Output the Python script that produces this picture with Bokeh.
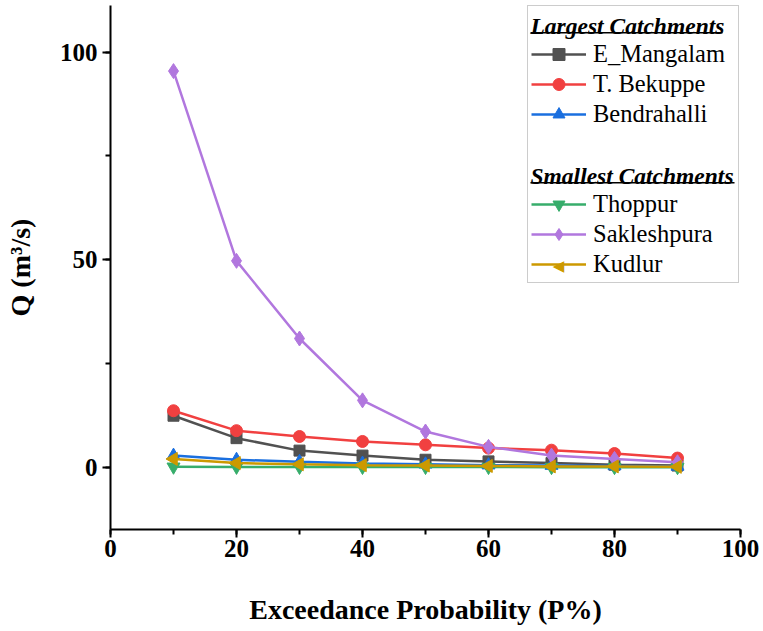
import numpy as np
from bokeh.plotting import figure
from bokeh.models import (Legend, LegendItem, Label, BoxAnnotation, Range1d,
                          SingleIntervalTicker)
from bokeh.embed import file_html
from bokeh.resources import INLINE

# ---------------- data ----------------
exceedance = [10, 20, 30, 40, 50, 60, 70, 80, 90]
e_mangalam = [12.4, 7.0, 4.0, 2.8, 1.8, 1.4, 1.0, 0.6, 0.4]
t_bekuppe = [13.6, 8.8, 7.4, 6.2, 5.4, 4.6, 4.1, 3.3, 2.2]
bendrahalli = [2.8, 1.8, 1.3, 0.9, 0.7, 0.5, 0.4, 0.3, 0.2]
thoppur = [0.1, 0.08, 0.06, 0.05, 0.04, 0.03, 0.02, 0.02, 0.01]
sakleshpura = [95.4, 49.7, 31.0, 16.1, 8.6, 4.9, 2.8, 2.0, 1.2]
kudlur = [2.0, 1.0, 0.7, 0.5, 0.4, 0.3, 0.2, 0.2, 0.1]

series_names = ["E_Mangalam", "T. Bekuppe", "Bendrahalli", "Thoppur", "Sakleshpura", "Kudlur"]
series_values = [e_mangalam, t_bekuppe, bendrahalli, thoppur, sakleshpura, kudlur]
colors = ["#515151", "#F14040", "#1A6FDF", "#37AD6B", "#B177DE", "#CC9900"]
markers = ["square", "circle", "triangle", "inverted_triangle", "diamond", "triangle"]
marker_angles = [0, 0, 0, 0, 0, np.pi / 2]
marker_sizes = [11, 12, 13, 13, 15, 13]

header_largest = "Largest Catchments"
header_smallest = "Smallest Catchments"

FONT = "Liberation Serif"

p = figure(width=763, height=631, output_backend="svg", toolbar_location=None,
           x_range=Range1d(0, 100), y_range=Range1d(-15, 111.2),
           min_border_left=110, min_border_right=23, min_border_top=5,
           min_border_bottom=102)
p.outline_line_color = None
p.xgrid.visible = False
p.ygrid.visible = False
p.background_fill_color = "white"
p.border_fill_color = "white"

# axes
p.xaxis.ticker = SingleIntervalTicker(interval=20, num_minor_ticks=2)
p.yaxis.ticker = SingleIntervalTicker(interval=50, num_minor_ticks=2)
for ax in (p.xaxis[0], p.yaxis[0]):
    ax.axis_line_width = 2
    ax.axis_line_color = "black"
    ax.major_tick_line_width = 2
    ax.minor_tick_line_width = 2
    ax.major_tick_line_color = "black"
    ax.minor_tick_line_color = "black"
    ax.major_tick_in = 0
    ax.minor_tick_in = 0
    ax.major_tick_out = 8
    ax.minor_tick_out = 5
    ax.major_label_text_font = FONT
    ax.major_label_text_font_style = "bold"
    ax.major_label_text_font_size = "25px"
    ax.major_label_text_color = "black"
    ax.axis_label_text_font = FONT
    ax.axis_label_text_font_style = "bold"
    ax.axis_label_text_font_size = "28px"
    ax.axis_label_text_color = "black"

p.xaxis.axis_label = "Exceedance Probability (P%)"
p.yaxis.axis_label = "Q (m\u00b3/s)"
p.xaxis.major_label_standoff = 2
p.xaxis.axis_label_standoff = 34
p.yaxis.major_label_standoff = 5
p.yaxis.axis_label_standoff = 21

# series
legend_entries = {}
for name, vals, c, m, ang, sz in zip(series_names, series_values, colors, markers,
                                       marker_angles, marker_sizes):
    ln = p.line(exceedance, vals, line_color=c, line_width=2.5)
    sc = p.scatter(exceedance, vals, marker=m, size=sz, angle=ang,
                   fill_color=c, line_color=c)
    # the legend does not rotate markers, so Kudlur's left-pointing marker is drawn separately
    legend_entries[name] = [ln, sc] if ang == 0 else [ln]

dummy = p.line(x=[], y=[], line_alpha=0)

items = [LegendItem(label=" ", renderers=[dummy])]
for n in series_names[:3]:
    items.append(LegendItem(label=n, renderers=legend_entries[n]))
items.append(LegendItem(label="  ", renderers=[dummy]))
items.append(LegendItem(label="   ", renderers=[dummy]))
for n in series_names[3:]:
    items.append(LegendItem(label=n, renderers=legend_entries[n]))

legend = Legend(items=items, location=(417, 246),
                label_text_font=FONT, label_text_font_size="24.5px",
                label_text_color="black",
                glyph_width=55, glyph_height=30, label_height=30, label_width=142,
                label_standoff=7, spacing=0, padding=3, margin=0,
                border_line_color="#9a9a9a", border_line_width=1,
                background_fill_color="white", background_fill_alpha=0)
p.add_layout(legend)

# left-pointing marker for Kudlur in the legend (frame-relative screen units)
p.add_layout(Label(x=448, y=264, x_units="screen", y_units="screen", text="\u25C0",
                   text_font="DejaVu Sans", text_font_size="15px", text_color=colors[5],
                   text_align="center", text_baseline="middle", level="overlay"))

for txt, yc, wid in [(header_largest, 504, 192), (header_smallest, 354, 204)]:
    p.add_layout(Label(x=420, y=yc, x_units="screen", y_units="screen", text=txt,
                       text_font=FONT, text_font_style="bold italic",
                       text_font_size="23.5px", text_color="black",
                       text_baseline="middle", text_align="left", level="overlay"))
    p.add_layout(BoxAnnotation(left=420, right=420 + wid, bottom=yc - 8, top=yc - 6.5,
                               left_units="screen", right_units="screen",
                               bottom_units="screen", top_units="screen",
                               fill_color="black", fill_alpha=1, line_alpha=0,
                               level="overlay"))

open("out.html", "w").write(file_html(p, INLINE))
